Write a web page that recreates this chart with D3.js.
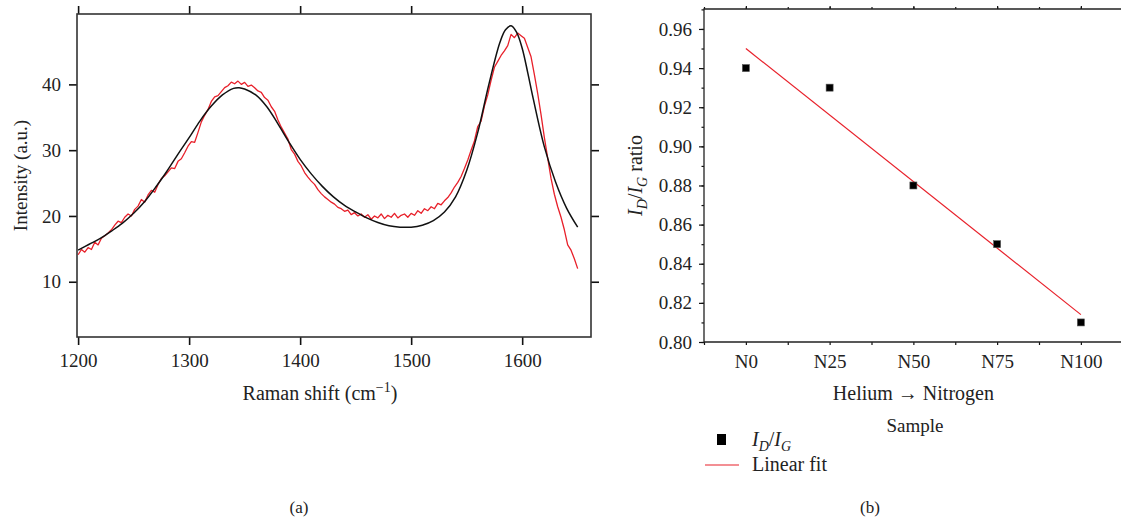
<!DOCTYPE html>
<html>
<head>
<meta charset="utf-8">
<script src="https://cdn.jsdelivr.net/npm/d3@7"></script>
<style>
  body { margin: 0; background: #fff; }
  text { font-family: "Liberation Serif", "DejaVu Serif", serif; fill: #222; }
</style>
</head>
<body>
<div class="chart"></div>
<script>
//size of the whole picture
var widthSVG = 1121;
var heightSVG = 519;
var fontSize = "19px";
var titleSize = "20px";

// ---- panel (a) data: Raman spectrum ----
var ramanShift = [1200,1203,1206,1209,1212,1215,1218,1221,1224,1227,1230,1233,1236,1239,1242,1245,1248,1251,1254,1257,
  1260,1263,1266,1269,1272,1275,1278,1281,1284,1287,1290,1293,1296,1299,1302,1305,1308,1311,1314,1317,
  1320,1323,1326,1329,1332,1335,1338,1341,1344,1347,1350,1353,1356,1359,1362,1365,1368,1371,1374,1377,
  1380,1383,1386,1389,1392,1395,1398,1401,1404,1407,1410,1413,1416,1419,1422,1425,1428,1431,1434,1437,
  1440,1443,1446,1449,1452,1455,1458,1461,1464,1467,1470,1473,1476,1479,1482,1485,1488,1491,1494,1497,
  1500,1503,1506,1509,1512,1515,1518,1521,1524,1527,1530,1533,1536,1539,1542,1545,1548,1551,1554,1557,
  1560,1563,1566,1569,1572,1575,1578,1581,1584,1587,1590,1593,1596,1599,1602,1605,1608,1611,1614,1617,
  1620,1623,1626,1629,1632,1635,1638,1641,1644,1647,1650];
var measured = [14.1,14.9,14.5,15.2,14.9,16.0,15.6,16.6,17.0,17.4,17.9,18.6,19.2,19.0,19.8,20.3,20.0,21.0,21.5,22.5,
  22.1,23.2,23.9,23.6,24.8,25.7,26.1,26.7,27.3,27.2,28.3,28.7,29.6,30.6,31.3,31.2,32.7,34.3,35.3,36.2,
  37.4,38.1,38.3,38.9,39.5,39.8,40.35,40.1,40.5,40.0,40.3,39.7,39.9,39.5,39.0,38.8,38.0,37.6,36.6,35.9,
  34.6,33.5,32.6,31.7,30.1,29.4,28.3,27.6,26.6,25.9,25.3,24.8,24.0,23.4,22.9,22.5,22.1,21.8,21.3,21.1,
  20.7,20.9,20.2,20.5,20.0,20.3,19.8,20.2,19.5,20.0,19.7,20.3,19.6,20.1,19.8,20.4,19.7,20.1,20.3,19.8,
  20.4,20.1,20.8,20.4,21.1,20.8,21.4,21.1,21.9,21.7,22.3,22.8,23.5,24.4,25.1,26.0,27.2,28.5,30.0,31.4,
  33.6,34.4,36.7,38.4,40.6,42.6,43.5,44.4,45.1,45.9,47.6,47.1,47.8,47.4,47.0,45.6,44.2,41.5,38.6,35.4,
  31.9,28.8,25.7,23.3,21.4,19.8,17.9,15.6,14.8,13.5,12.0];

// fitted curve (black)
var fitShift = [1200,1210,1220,1230,1240,1250,1260,1270,1280,1290,1300,1310,1320,1330,1340,1345,1350,1360,1370,1380,
  1390,1400,1410,1420,1430,1440,1450,1460,1470,1480,1490,1500,1510,1520,1530,1540,1550,1560,1570,1580,
  1585,1590,1595,1600,1605,1610,1620,1630,1640,1650];
var fitted = [14.8,15.7,16.6,17.7,18.9,20.4,22.2,24.4,26.8,29.4,31.9,34.5,36.7,38.4,39.4,39.5,39.3,38.4,36.6,34.0,
  31.2,28.6,26.4,24.5,22.9,21.6,20.6,19.7,19.0,18.5,18.3,18.3,18.6,19.3,20.6,22.9,26.9,32.7,40.0,46.4,
  48.3,48.9,47.9,45.5,41.8,37.8,30.5,25.2,21.2,18.3];

var ramanTicksX = [1200,1300,1400,1500,1600];
var ramanTicksY = [10,20,30,40];

// ---- panel (b) data: ID/IG ratio ----
var samples = ["N0","N25","N50","N75","N100"];
var ratio = [0.94,0.93,0.88,0.85,0.81];
// linear fit read at first and last sample
var fitEnds = [0.950,0.814];
var ratioTicks = [0.80,0.82,0.84,0.86,0.88,0.90,0.92,0.94,0.96];

var red = "#e8202a";

var svg = d3.select(".chart")
  .append("svg")
  .attr("width", widthSVG)
  .attr("height", heightSVG);

// ================= panel (a) =================
var aLeft = 77, aRight = 591, aTop = 14, aBottom = 337;

var xA = d3.scaleLinear().domain([1199, 1662]).range([aLeft, aRight]);
var yA = d3.scaleLinear().domain([1.6, 50.7]).range([aBottom, aTop]);

var gA = svg.append("g");

// curves
var redLine = d3.line()
  .x(function(d, i) { return xA(ramanShift[i]); })
  .y(function(d) { return yA(d); });

gA.append("path")
  .datum(measured)
  .attr("d", redLine)
  .attr("fill", "none")
  .attr("stroke", red)
  .attr("stroke-width", 1.3)
  .attr("stroke-linejoin", "round");

var blackLine = d3.line()
  .x(function(d, i) { return xA(fitShift[i]); })
  .y(function(d) { return yA(d); })
  .curve(d3.curveCatmullRom);

gA.append("path")
  .datum(fitted)
  .attr("d", blackLine)
  .attr("fill", "none")
  .attr("stroke", "#111")
  .attr("stroke-width", 1.5);

// axes, ticks outside on all four sides
function styleAxis(g) {
  // drop d3's default sans-serif font so the serif css rule is used
  g.attr("font-family", null).attr("font-size", null);
  g.select(".domain").remove();
  g.selectAll(".tick line").attr("stroke", "#111").attr("stroke-width", 1.6);
  g.selectAll(".tick text").style("font-size", fontSize).attr("fill", "#222");
}

gA.append("g")
  .attr("transform", "translate(0," + aBottom + ")")
  .call(d3.axisBottom(xA).tickValues(ramanTicksX).tickSize(8).tickPadding(9).tickFormat(d3.format("d")))
  .call(styleAxis);
gA.append("g")
  .attr("transform", "translate(0," + aTop + ")")
  .call(d3.axisTop(xA).tickValues(ramanTicksX).tickSize(8).tickFormat(""))
  .call(styleAxis);
gA.append("g")
  .attr("transform", "translate(" + aLeft + ",0)")
  .call(d3.axisLeft(yA).tickValues(ramanTicksY).tickSize(8).tickPadding(8))
  .call(styleAxis);
gA.append("g")
  .attr("transform", "translate(" + aRight + ",0)")
  .call(d3.axisRight(yA).tickValues(ramanTicksY).tickSize(8).tickFormat(""))
  .call(styleAxis);

// frame
gA.append("rect")
  .attr("x", aLeft).attr("y", aTop)
  .attr("width", aRight - aLeft).attr("height", aBottom - aTop)
  .attr("fill", "none").attr("stroke", "#333").attr("stroke-width", 1.6);

var xLabA = gA.append("text")
  .attr("text-anchor", "middle")
  .attr("x", 320).attr("y", 400)
  .style("font-size", titleSize);
xLabA.append("tspan").text("Raman shift (cm");
xLabA.append("tspan").attr("dy", -8).style("font-size", "14px").text("\u22121");
xLabA.append("tspan").attr("dy", 8).text(")");

gA.append("text")
  .attr("text-anchor", "middle")
  .attr("transform", "translate(27," + ((aTop + aBottom) / 2) + ") rotate(-90)")
  .style("font-size", fontSize)
  .text("Intensity (a.u.)");

gA.append("text")
  .attr("text-anchor", "middle")
  .attr("x", 299).attr("y", 513)
  .style("font-size", "17px")
  .text("(a)");

// ================= panel (b) =================
var bLeft = 704, bTop = 9, bBottom = 342;

var xB = d3.scaleLinear().domain([-0.5, 4.5]).range([bLeft, bLeft + 5 * 83.75]);
var yB = d3.scaleLinear().domain([0.80, 0.9702]).range([bBottom, bTop]);

var gB = svg.append("g");

var minorX = d3.range(-0.5, 4.6, 0.5);
var minorY = d3.range(0.80, 0.975, 0.01);

// bottom and top ticks
gB.append("g")
  .attr("transform", "translate(0," + bBottom + ")")
  .call(d3.axisBottom(xB).tickValues(minorX).tickSize(3).tickFormat(""))
  .call(styleAxis);
gB.append("g")
  .attr("transform", "translate(0," + bBottom + ")")
  .call(d3.axisBottom(xB).tickValues(d3.range(samples.length)).tickSize(0).tickPadding(13)
    .tickFormat(function(d) { return samples[d]; }))
  .call(styleAxis);
gB.append("g")
  .attr("transform", "translate(0," + bTop + ")")
  .call(d3.axisTop(xB).tickValues(d3.range(samples.length)).tickSize(3).tickFormat(""))
  .call(styleAxis);
gB.append("g")
  .attr("transform", "translate(0," + bTop + ")")
  .call(d3.axisTop(xB).tickValues(minorX).tickSize(2).tickFormat(""))
  .call(styleAxis);

// left ticks
gB.append("g")
  .attr("transform", "translate(" + bLeft + ",0)")
  .call(d3.axisLeft(yB).tickValues(minorY).tickSize(2.5).tickFormat(""))
  .call(styleAxis);
gB.append("g")
  .attr("transform", "translate(" + bLeft + ",0)")
  .call(d3.axisLeft(yB).tickValues(ratioTicks).tickSize(5).tickPadding(7).tickFormat(d3.format(".2f")))
  .call(styleAxis);
gB.selectAll(".tick line").attr("stroke-width", 1.2);

// frame lines (right side runs off the picture)
gB.append("path")
  .attr("d", "M" + widthSVG + "," + bTop + "H" + bLeft + "V" + bBottom + "H" + widthSVG)
  .attr("fill", "none").attr("stroke", "#222").attr("stroke-width", 1.3);

// linear fit
gB.append("line")
  .attr("x1", xB(0)).attr("y1", yB(fitEnds[0]))
  .attr("x2", xB(samples.length - 1)).attr("y2", yB(fitEnds[1]))
  .attr("stroke", red).attr("stroke-width", 1.2);

// points
gB.selectAll(".pt")
  .data(ratio)
  .enter()
  .append("rect")
  .attr("class", "pt")
  .attr("x", function(d, i) { return xB(i) - 3.5; })
  .attr("y", function(d) { return yB(d) - 3.5; })
  .attr("width", 7).attr("height", 7)
  .attr("fill", "#000").attr("stroke", "#555").attr("stroke-width", 0.6);

// subscript label helper: I_D/I_G
function ratioLabel(t, subSize, tail) {
  t.append("tspan").style("font-style", "italic").text("I");
  t.append("tspan").style("font-style", "italic").style("font-size", subSize).attr("dy", 5).text("D");
  t.append("tspan").attr("dy", -5).text("/");
  t.append("tspan").style("font-style", "italic").text("I");
  t.append("tspan").style("font-style", "italic").style("font-size", subSize).attr("dy", 5).text("G");
  t.append("tspan").attr("dy", -5).text(tail);
}

var yLab = gB.append("text")
  .attr("text-anchor", "middle")
  .attr("transform", "translate(642," + ((bTop + bBottom) / 2) + ") rotate(-90)")
  .style("font-size", titleSize);
ratioLabel(yLab, "14px", " ratio");

gB.append("text")
  .attr("text-anchor", "middle")
  .attr("x", xB(2)).attr("y", 400)
  .style("font-size", titleSize)
  .text("Helium \u2192 Nitrogen");

gB.append("text")
  .attr("text-anchor", "middle")
  .attr("x", 915).attr("y", 432)
  .style("font-size", fontSize)
  .text("Sample");

// legend
var legend = gB.append("g").attr("transform", "translate(705,440)");
legend.append("rect")
  .attr("x", 12).attr("y", -6).attr("width", 9).attr("height", 11)
  .attr("fill", "#000");
var legTxt = legend.append("text").attr("x", 47).attr("y", 6).style("font-size", titleSize);
ratioLabel(legTxt, "14px", "");
legend.append("line")
  .attr("x1", 0).attr("x2", 34).attr("y1", 25).attr("y2", 25)
  .attr("stroke", red).attr("stroke-width", 1.2);
legend.append("text").attr("x", 47).attr("y", 31).style("font-size", titleSize).text("Linear fit");

gB.append("text")
  .attr("text-anchor", "middle")
  .attr("x", 870).attr("y", 513)
  .style("font-size", "17px")
  .text("(b)");
</script>
</body>
</html>
